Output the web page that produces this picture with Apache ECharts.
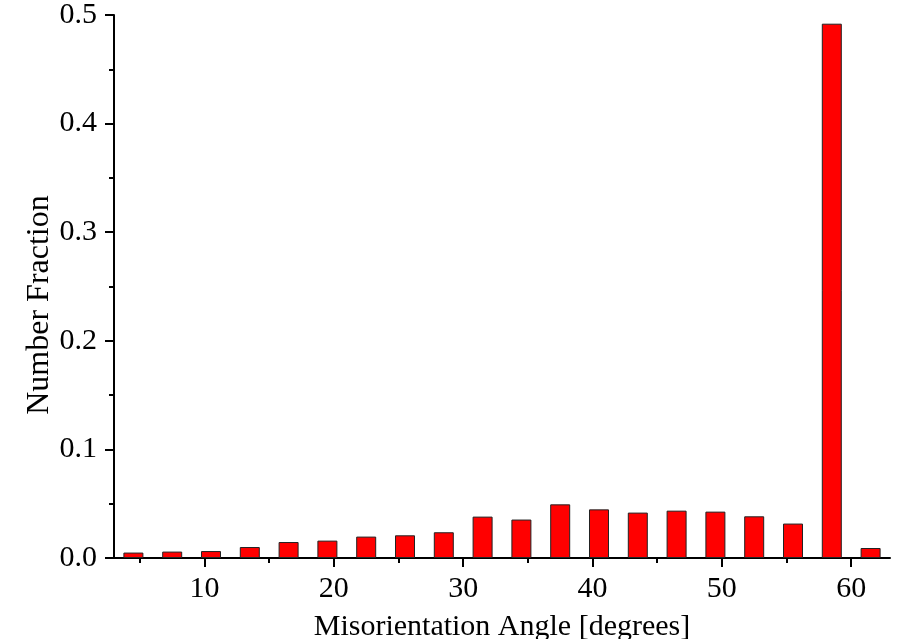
<!DOCTYPE html>
<html>
<head>
<meta charset="utf-8">
<script src="https://cdn.jsdelivr.net/npm/echarts@6/dist/echarts.min.js"></script>
<style>
html,body{margin:0;padding:0;background:#fff;}
#chart{width:897px;height:639px;}
</style>
</head>
<body>
<div id="chart"></div>
<script>
// Bin centres (degrees) and number fractions
const angles = [4.5, 7.5, 10.5, 13.5, 16.5, 19.5, 22.5, 25.5, 28.5, 31.5, 34.5, 37.5, 40.5, 43.5, 46.5, 49.5, 52.5, 55.5, 58.5, 61.5];
const fractions = [0.0050, 0.0059, 0.0064, 0.0101, 0.0147, 0.0160, 0.0197, 0.0209, 0.0237, 0.0381, 0.0354, 0.0494, 0.0448, 0.0418, 0.0436, 0.0427, 0.0384, 0.0317, 0.492, 0.0092];
const xTicks = [10, 20, 30, 40, 50, 60];
const xTitle = 'Misorientation Angle [degrees]';
const yTitle = 'Number Fraction';

const seriesData = angles.map((a, i) => [a, fractions[i]]);
const FONT = '"Liberation Serif", "Times New Roman", serif';

const chart = echarts.init(document.getElementById('chart'), null, {renderer: 'canvas'});
chart.setOption({
  animation: false,
  backgroundColor: '#ffffff',
  grid: {left: 114, right: 7, top: 15, bottom: 81, containLabel: false, outerBoundsMode: 'none'},
  xAxis: {
    type: 'value',
    min: 3, max: 63, splitNumber: 6,
    name: xTitle, nameLocation: 'middle', nameGap: 54, nameMoveOverlap: false,
    nameTextStyle: {fontFamily: FONT, fontSize: 30, color: '#000'},
    axisLine: {show: true, lineStyle: {color: '#000', width: 2}},
    axisTick: {show: true, length: 9, customValues: xTicks, lineStyle: {color: '#000', width: 2}},
    minorTick: {show: true, splitNumber: 2, length: 5, lineStyle: {color: '#000', width: 2}},
    axisLabel: {fontFamily: FONT, fontSize: 30, color: '#000', margin: 16, customValues: xTicks},
    splitLine: {show: false}
  },
  yAxis: {
    type: 'value',
    min: 0, max: 0.5, interval: 0.1,
    name: yTitle, nameLocation: 'middle', nameGap: 58, nameRotate: 90, nameMoveOverlap: false,
    nameTextStyle: {fontFamily: FONT, fontSize: 32, color: '#000', padding: [0, 37, 0, 0]},
    axisLine: {show: true, lineStyle: {color: '#000', width: 2}},
    axisTick: {show: true, length: 9, lineStyle: {color: '#000', width: 2}},
    minorTick: {show: true, splitNumber: 2, length: 5, lineStyle: {color: '#000', width: 2}},
    axisLabel: {fontFamily: FONT, fontSize: 30, color: '#000', margin: 17, formatter: v => v.toFixed(1)},
    splitLine: {show: false}
  },
  series: [{
    type: 'bar',
    data: seriesData,
    barWidth: 20,
    itemStyle: {color: '#ff0000', borderColor: '#222', borderWidth: 1}
  }]
});
</script>
</body>
</html>
